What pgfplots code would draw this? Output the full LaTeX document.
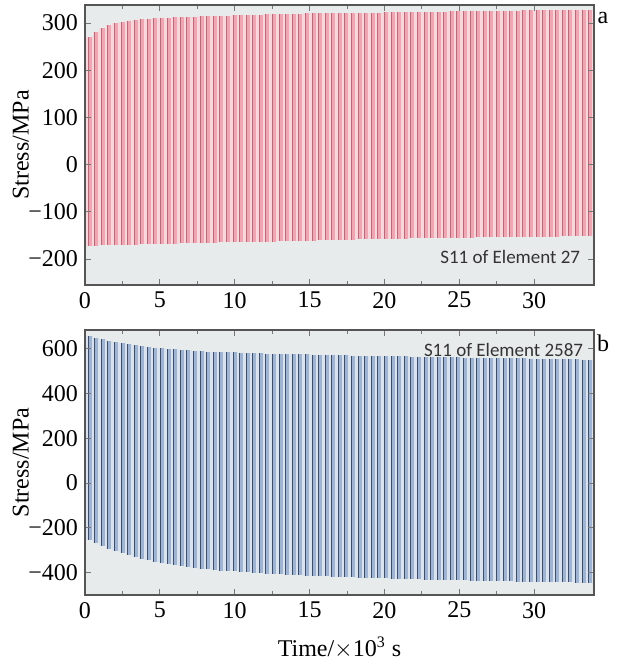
\documentclass[border=0pt]{standalone}
\usepackage{pgfplots}
\pgfplotsset{compat=1.18}
\usepackage{pgfplotstable}
\usepackage{fontspec}
\setmainfont{Liberation Serif}
\newfontfamily\labelfont{Carlito}
\definecolor{bgc}{HTML}{E8EBEB}
\definecolor{pinkL}{HTML}{F9D6DC}
\definecolor{pinkM}{HTML}{F0A6B2}
\definecolor{pinkD}{HTML}{B86A78}
\definecolor{blueL}{HTML}{D9E3F0}
\definecolor{blueM}{HTML}{9FB4D2}
\definecolor{blueD}{HTML}{3E4D68}
\definecolor{frame}{HTML}{555555}

\pgfplotstableread{
t max min
0.30 270 -172
0.74 281 -172
1.18 289 -171
1.62 295 -171
2.06 299 -171
2.50 302 -170
2.94 305 -170
3.38 307 -170
3.82 308 -169
4.26 309 -169
4.70 310 -169
5.14 311 -168
5.58 311 -168
6.02 312 -168
6.46 312 -167
6.90 313 -167
7.34 313 -167
7.78 314 -166
8.22 314 -166
8.66 315 -166
9.10 315 -165
9.54 315 -165
9.98 316 -165
10.42 316 -164
10.86 317 -164
11.30 317 -164
11.74 317 -163
12.18 318 -163
12.62 318 -163
13.06 318 -162
13.50 319 -162
13.94 319 -162
14.38 319 -161
14.82 320 -161
15.26 320 -161
15.70 320 -160
16.14 320 -160
16.58 321 -160
17.02 321 -159
17.46 321 -159
17.90 321 -159
18.34 322 -158
18.78 322 -158
19.22 322 -158
19.66 322 -158
20.10 323 -157
20.54 323 -157
20.98 323 -157
21.42 323 -157
21.86 323 -156
22.30 324 -156
22.74 324 -156
23.18 324 -156
23.62 324 -156
24.06 324 -155
24.50 325 -155
24.94 325 -155
25.38 325 -155
25.82 325 -155
26.26 325 -154
26.70 326 -154
27.14 326 -154
27.58 326 -154
28.02 326 -154
28.46 326 -154
28.90 326 -153
29.34 327 -153
29.78 327 -153
30.22 327 -153
30.66 327 -153
31.10 327 -153
31.54 327 -153
31.98 328 -152
32.42 328 -152
32.86 328 -152
33.30 328 -152
33.74 328 -152
}\dataA

\pgfplotstableread{
t max min
0.30 655 -255
0.74 648 -268
1.18 641 -281
1.62 635 -293
2.06 629 -304
2.50 624 -314
2.94 619 -323
3.38 615 -331
3.82 611 -338
4.26 607 -345
4.70 604 -351
5.14 601 -357
5.58 598 -362
6.02 596 -367
6.46 594 -371
6.90 592 -375
7.34 590 -379
7.78 589 -382
8.22 587 -385
8.66 586 -388
9.10 585 -391
9.54 584 -393
9.98 583 -395
10.42 582 -397
10.86 581 -399
11.30 580 -401
11.74 579 -403
12.18 578 -405
12.62 577 -406
13.06 577 -408
13.50 576 -409
13.94 575 -411
14.38 574 -412
14.82 574 -413
15.26 573 -415
15.70 572 -416
16.14 572 -417
16.58 571 -418
17.02 570 -419
17.46 570 -420
17.90 569 -421
18.34 568 -422
18.78 568 -423
19.22 567 -424
19.66 567 -425
20.10 566 -426
20.54 566 -427
20.98 565 -428
21.42 565 -429
21.86 564 -429
22.30 564 -430
22.74 563 -431
23.18 563 -432
23.62 562 -432
24.06 562 -433
24.50 561 -434
24.94 561 -434
25.38 560 -435
25.82 560 -436
26.26 559 -436
26.70 559 -437
27.14 558 -438
27.58 558 -438
28.02 557 -439
28.46 557 -439
28.90 556 -440
29.34 556 -441
29.78 555 -441
30.22 555 -442
30.66 554 -442
31.10 554 -443
31.54 553 -443
31.98 553 -444
32.42 552 -444
32.86 552 -445
33.30 551 -445
33.74 551 -446
}\dataB

\pgfplotsset{
  panel/.style={
    scale only axis, width=254.5pt,
    xmin=0, xmax=34, xtick={0,5,...,30}, minor x tick num=1,
    /pgf/number format/assume math mode=true,
    tick label style={font=\fontsize{12}{14}\selectfont},
    label style={font=\fontsize{12}{14}\selectfont},
    axis background/.style={fill=bgc},
    axis on top,
    axis line style={draw=frame, line width=0.8pt},
    tick style={draw=frame!80, line width=0.4pt},
    major tick length=3pt, minor tick length=2pt,
    ylabel={Stress/MPa},
    y label style={at={(axis description cs:-0.126,0.5)}, anchor=center},
    clip=true,
  },
  stripe/.style n args={3}{draw=none, forget plot,
    error bars/.cd, y dir=minus, y explicit, error mark=none,
    error bar style={draw=#1, line width=#2, solid, xshift=#3}},
}

\begin{document}
\begin{tikzpicture}
\useasboundingbox (-42.5pt,-33.5pt) rectangle (267.5pt,297.5pt);

% top panel (a)
\begin{axis}[panel, at={(0pt,155pt)}, anchor=south west, height=140pt,
  ymin=-255, ymax=338, ytick={-200,-100,0,100,200,300},
  yticklabels={−200,−100,0,100,200,300}]
\addplot[stripe={pinkL}{3.4pt}{0pt}] table[x=t, y=max, y error expr=\thisrow{max}-\thisrow{min}] {\dataA};
\addplot[stripe={pinkM}{1.5pt}{0.3pt}] table[x=t, y=max, y error expr=\thisrow{max}-\thisrow{min}] {\dataA};
\addplot[stripe={pinkD}{0.5pt}{-0.7pt}] table[x=t, y=max, y error expr=\thisrow{max}-\thisrow{min}] {\dataA};
\node[font=\labelfont\fontsize{9.5}{11}\selectfont, text=black!80, anchor=east, inner sep=0pt] at (axis cs:33.1,-196) {S11 of Element 27};
\end{axis}

% bottom panel (b)
\begin{axis}[panel, at={(0pt,0pt)}, anchor=south west, height=132.5pt,
  ymin=-500, ymax=683, ytick={-400,-200,0,200,400,600},
  yticklabels={−400,−200,0,200,400,600},
  xlabel={Time/$\times$10\textsuperscript{3} s},
  x label style={at={(axis description cs:0.5,-0.2)}, anchor=center}]
\addplot[stripe={blueL}{3.4pt}{0pt}] table[x=t, y=max, y error expr=\thisrow{max}-\thisrow{min}] {\dataB};
\addplot[stripe={blueM}{1.5pt}{0.3pt}] table[x=t, y=max, y error expr=\thisrow{max}-\thisrow{min}] {\dataB};
\addplot[stripe={blueD}{0.5pt}{-0.7pt}] table[x=t, y=max, y error expr=\thisrow{max}-\thisrow{min}] {\dataB};
\node[font=\labelfont\fontsize{9.5}{11}\selectfont, text=black!80, anchor=east, inner sep=0pt] at (axis cs:33.3,596) {S11 of Element 2587};
\end{axis}

\node[anchor=center, font=\fontsize{12}{14}\selectfont] at (259pt,288.5pt) {a};
\node[anchor=center, font=\fontsize{12}{14}\selectfont] at (259pt,126pt) {b};
\end{tikzpicture}
\end{document}
